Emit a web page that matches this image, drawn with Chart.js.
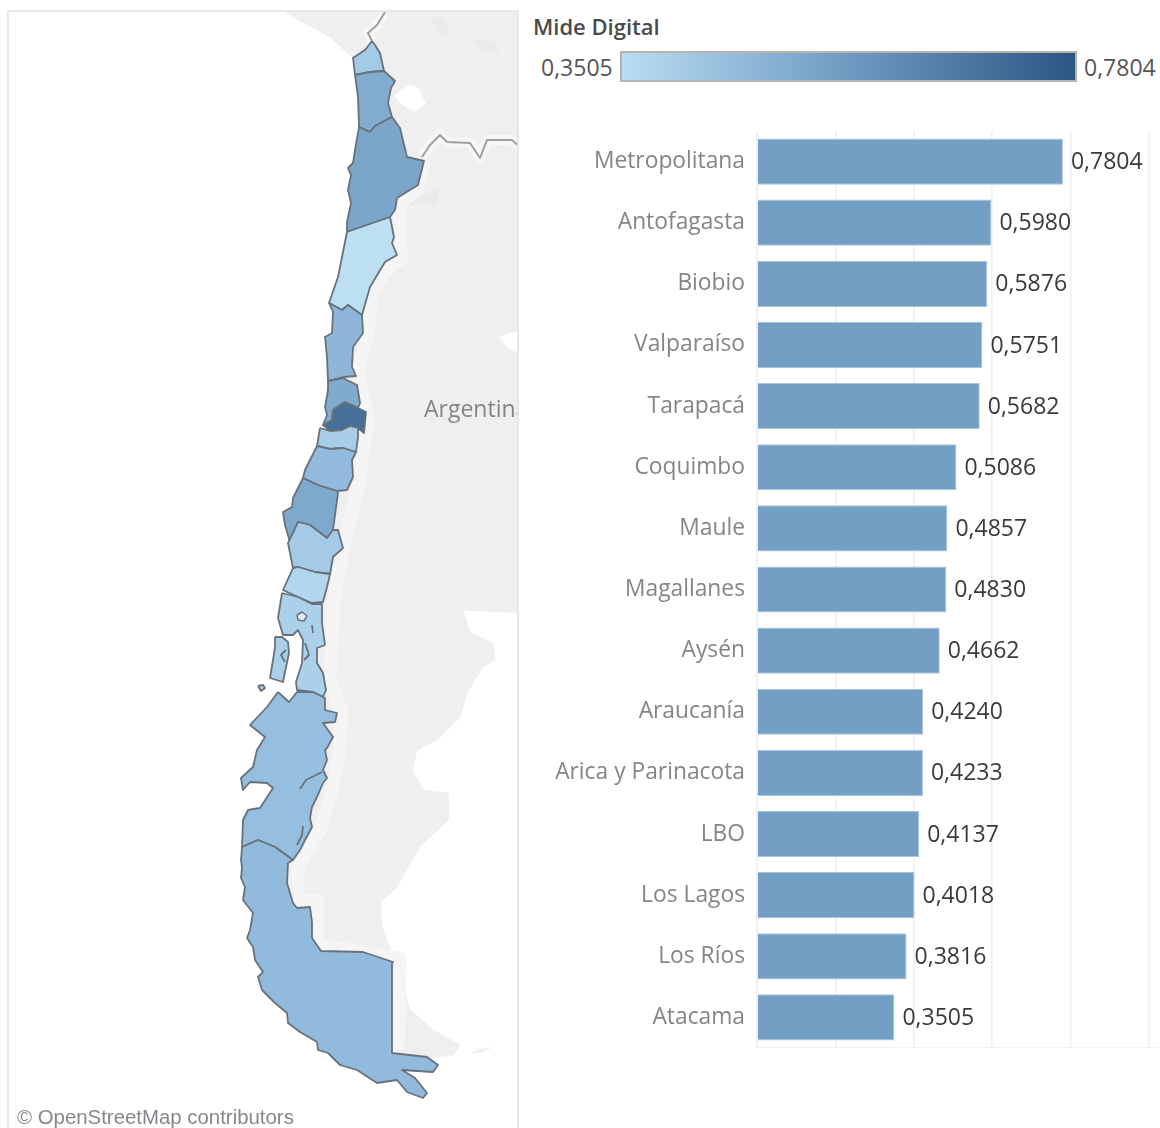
<!DOCTYPE html>
<html>
<head>
<meta charset="utf-8">
<script src="https://cdn.jsdelivr.net/npm/chart.js@4"></script>
<style>
  html, body { margin: 0; background: #fff; }
  body { width: 1160px; height: 1128px; position: relative; overflow: hidden; font-family: "Open Sans", sans-serif; }
  #mapPanel { position: absolute; left: 7px; top: 10px; width: 508px; height: 1118px; border: 2px solid #e8e8e8; border-bottom: 0; overflow: hidden; }
  #mapCanvas { position: absolute; left: 0; top: 0; }
  #country { position: absolute; left: 415px; top: 380px; font: 23px "Open Sans", sans-serif; color: #858585; white-space: nowrap; }
  #credit { position: absolute; left: 8px; top: 1094px; font: 20.4px "Liberation Sans", sans-serif; color: #85888c; white-space: nowrap; }
  #barBox { position: absolute; left: 520px; top: 131px; width: 640px; height: 917px; }
  #legendTitle { position: absolute; left: 533px; top: 11px; font: 600 22px "Open Sans", sans-serif; color: #4a4a4a; }
  .legendValue { position: absolute; top: 51px; font: 23px "Open Sans", sans-serif; color: #555; }
  #legendRamp { position: absolute; left: 620px; top: 51px; width: 453px; height: 27px; border: 2px solid #b5b5ad; }
</style>
</head>
<body>
<div id="mapPanel">
  <canvas id="mapCanvas"></canvas>
  <div id="country">Argentina</div>
  <div id="credit">© OpenStreetMap contributors</div>
</div>
<div id="legendTitle">Mide Digital</div>
<div class="legendValue" style="left:541px">0,3505</div>
<div id="legendRamp"></div>
<div class="legendValue" style="left:1084px">0,7804</div>
<div id="barBox"><canvas id="barCanvas"></canvas></div>
<script>
const regions = ['Metropolitana', 'Antofagasta', 'Biobio', 'Valparaíso', 'Tarapacá', 'Coquimbo', 'Maule', 'Magallanes', 'Aysén', 'Araucanía', 'Arica y Parinacota', 'LBO', 'Los Lagos', 'Los Ríos', 'Atacama'];
const mideDigital = [0.7804, 0.5980, 0.5876, 0.5751, 0.5682, 0.5086, 0.4857, 0.4830, 0.4662, 0.4240, 0.4233, 0.4137, 0.4018, 0.3816, 0.3505];
const axisTicks = [0, 0.2, 0.4, 0.6, 0.8, 1];

// map outlines, in map units
const arica = [[372,41],[365,50],[353,58],[355,75],[370,72],[384,71],[380,53],[375,45]];
const tarapaca = [[355,75],[358,97],[359,127],[370,132],[375,126],[392,117],[388,103],[391,88],[395,81],[384,71],[370,72]];
const antofagasta = [[359,127],[370,132],[375,126],[392,117],[400,128],[407,157],[424,161],[418,185],[397,198],[395,210],[390,217],[347,232],[347,222],[351,203],[348,190],[351,175],[348,168],[353,163],[355,150]];
const atacama = [[347,232],[390,217],[394,237],[392,243],[397,255],[385,262],[370,287],[362,315],[348,305],[342,310],[329,303],[338,277],[342,257]];
const coquimbo = [[329,303],[342,310],[348,305],[362,315],[363,333],[353,347],[352,367],[356,376],[343,377],[328,381],[327,357],[325,337],[332,333],[333,312]];
const valparaiso = [[328,381],[343,378],[357,385],[360,403],[358,408],[345,402],[333,410],[332,420],[323,425],[327,415],[325,407],[328,390]];
const metropolitana = [[345,402],[358,408],[366,412],[364,433],[358,428],[350,426],[342,430],[330,431],[323,425],[332,420],[333,410]];
const lbo = [[320,428],[330,431],[342,430],[350,426],[358,428],[358,437],[356,452],[343,448],[330,449],[317,446]];
const maule = [[317,446],[305,470],[303,478],[318,485],[337,491],[347,490],[353,477],[352,460],[356,452],[343,448],[330,449]];
const biobio = [[303,478],[293,498],[292,507],[283,512],[285,525],[290,542],[298,522],[310,525],[327,538],[333,530],[338,493],[337,491],[318,485]];
const araucania = [[298,522],[288,543],[293,568],[298,567],[315,572],[330,574],[333,557],[343,548],[338,530],[333,530],[327,538],[310,525]];
const losRios = [[293,568],[283,590],[298,597],[312,603],[323,602],[327,587],[330,574],[315,572],[298,567]];
const losLagos = [[282,593],[298,597],[312,604],[322,604],[322,623],[325,645],[317,648],[317,663],[323,673],[326,690],[323,697],[313,692],[297,690],[296,682],[302,663],[303,640],[298,630],[293,635],[283,635],[278,618]];
const chiloe = [[275,637],[282,637],[288,642],[289,653],[285,672],[283,682],[270,678],[273,660],[275,647]];
const islet = [[258,686],[263,685],[265,688],[261,691]];
const lake = [[297,615],[302,612],[307,616],[304,621],[298,620]];
const aysen = [[278,692],[289,702],[297,692],[313,692],[325,698],[325,710],[337,713],[335,722],[323,723],[333,737],[327,748],[325,750],[327,760],[323,770],[327,778],[323,783],[317,797],[312,807],[310,818],[312,827],[305,840],[300,850],[293,860],[275,847],[258,840],[242,847],[243,820],[248,810],[260,808],[273,788],[267,783],[250,782],[243,790],[241,778],[253,767],[257,750],[265,737],[250,725],[267,707]];
const magallanes = [[242,847],[241,860],[242,867],[241,878],[245,887],[243,900],[253,913],[250,930],[247,938],[253,947],[255,960],[263,972],[258,977],[262,990],[275,1003],[287,1013],[288,1023],[300,1032],[317,1042],[318,1050],[328,1053],[340,1065],[357,1070],[377,1083],[397,1080],[407,1092],[423,1098],[427,1093],[415,1078],[402,1070],[433,1072],[438,1065],[427,1057],[392,1053],[392,963],[393,962],[363,952],[321,951],[312,938],[312,922],[310,907],[297,908],[293,903],[287,883],[288,863],[293,860],[275,847],[258,840]];
const fjordA = [[312,625],[313,633]];
const fjordB = [[305,643],[309,655],[304,660]];
const fjordC = [[300,789],[306,780],[322,772]];
const fjordD = [[297,845],[302,835],[303,826]];
const fjordE = [[286,650],[281,655],[285,662]];

const neighbours = [[285,12],[530,12],[530,613],[463,610],[470,633],[493,643],[495,660],[483,667],[467,693],[460,717],[437,740],[417,750],[412,770],[423,790],[448,793],[448,820],[420,847],[408,867],[397,887],[380,903],[382,927],[392,953],[400,973],[410,1010],[433,1030],[460,1045],[453,1055],[430,1058],[391,1050],[391,965],[320,955],[300,925],[285,880],[290,850],[310,780],[315,700],[310,660],[315,600],[320,560],[325,500],[340,470],[345,440],[345,410],[345,350],[360,290],[375,230],[370,150],[375,100],[370,60],[352,57],[330,37]];
const staten = [[472,1053],[480,1049],[490,1048],[482,1052]];
const titicaca = [[395,95],[410,85],[418,88],[425,103],[415,112],[400,103]];
const poopo = [[500,337],[518,331],[518,352],[507,347]];
const patchA = [[430,16],[445,22],[450,36],[438,33]];
const patchB = [[475,40],[495,42],[498,52],[480,48]];
const patchC = [[415,200],[440,188],[436,204],[410,204]];
const chileHalo = [[424,161],[418,188],[400,204],[399,240],[402,258],[388,268],[372,295],[368,335],[358,370],[368,420],[362,460],[358,490],[345,540],[334,600],[330,680],[342,712],[338,760],[332,790],[320,830],[298,868],[298,900],[318,900],[318,945],[400,958],[398,1050]];
const northBorder = [[385,12],[377,25],[368,33],[372,41]];
const eastBorder = [[422,157],[430,145],[440,135],[447,142],[470,143],[480,158],[487,140],[512,140],[520,147]];

const regionShapes = [
  [arica, 'Arica y Parinacota'], [tarapaca, 'Tarapacá'], [antofagasta, 'Antofagasta'], [atacama, 'Atacama'],
  [coquimbo, 'Coquimbo'], [valparaiso, 'Valparaíso'], [metropolitana, 'Metropolitana'], [lbo, 'LBO'],
  [maule, 'Maule'], [biobio, 'Biobio'], [araucania, 'Araucanía'], [losRios, 'Los Ríos'],
  [losLagos, 'Los Lagos'], [chiloe, 'Los Lagos'], [islet, 'Los Lagos'], [aysen, 'Aysén'], [magallanes, 'Magallanes']
];

// map fill is a paler version of the legend ramp
const mapStops = [[0, [188, 223, 242]], [0.3, [146, 187, 221]], [0.55, [127, 168, 205]], [1, [70, 112, 153]]];
function mapColor(v) {
  const lo = Math.min(...mideDigital), hi = Math.max(...mideDigital);
  const t = (v - lo) / (hi - lo);
  let i = 0;
  while (i < mapStops.length - 2 && t > mapStops[i + 1][0]) i++;
  const a = mapStops[i], b = mapStops[i + 1], k = (t - a[0]) / (b[0] - a[0]);
  const c = a[1].map((n, j) => Math.round(n + (b[1][j] - n) * k));
  return 'rgb(' + c.join(',') + ')';
}

function layer(pts, fillColor, lineColor, width) {
  const closed = fillColor ? pts.concat([pts[0]]) : pts;
  return {
    data: closed.map(p => ({ x: p[0], y: p[1] })),
    showLine: true,
    fill: fillColor ? 'shape' : false,
    backgroundColor: fillColor || 'transparent',
    borderColor: lineColor,
    borderWidth: width,
    borderJoinStyle: 'round',
    pointRadius: 0,
    tension: 0
  };
}

const layers = [
  layer(neighbours, '#efefef', '#efefef', 1),
  layer(staten, '#efefef', '#efefef', 1),
  layer(patchA, '#e8ebea', '#e8ebea', 1),
  layer(patchB, '#e8ebea', '#e8ebea', 1),
  layer(patchC, '#e8ebea', '#e8ebea', 1),
  layer(chileHalo, null, '#f5f5f5', 13),
  layer(eastBorder, null, '#f6f6f6', 10),
  layer(northBorder, null, '#f6f6f6', 10),
  layer(titicaca, '#ffffff', '#ffffff', 1),
  layer(poopo, '#ffffff', '#ffffff', 1),
  layer(eastBorder, null, '#a0a0a0', 2),
  layer(northBorder, null, '#a0a0a0', 2)
];
regionShapes.forEach(r => {
  layers.push(layer(r[0], mapColor(mideDigital[regions.indexOf(r[1])]), '#68727c', 1.8));
});
layers.push(layer(lake, '#e4eaee', '#68727c', 1.5));
[fjordA, fjordB, fjordC, fjordD, fjordE].forEach(f => layers.push(layer(f, null, '#68727c', 1.8)));
// chart.js paints high order first, so later layers end up on top
layers.forEach((d, i) => { d.order = layers.length - i; });

const mapBox = document.getElementById('mapCanvas');
mapBox.width = 508;
mapBox.height = 1118;
mapBox.style.width = '508px';
mapBox.style.height = '1118px';

new Chart(mapBox, {
  type: 'scatter',
  data: { datasets: layers },
  options: {
    responsive: false,
    animation: false,
    events: [],
    layout: { padding: 0 },
    plugins: { legend: { display: false }, tooltip: { enabled: false } },
    scales: {
      x: { display: false, min: 9, max: 517 },
      y: { display: false, reverse: true, min: 12, max: 1130 }
    }
  }
});

document.getElementById('legendRamp').style.background = 'linear-gradient(to right, #b9ddf1, #7ea9ce 40%, #2a5783)';

function decimal(v) {
  return v.toFixed(4).replace('.', ',');
}

const barLabels = {
  id: 'barLabels',
  afterDatasetsDraw(chart) {
    const ctx = chart.ctx;
    ctx.save();
    ctx.font = '23px "Open Sans", sans-serif';
    ctx.fillStyle = '#3a3a3a';
    ctx.textAlign = 'left';
    ctx.textBaseline = 'middle';
    chart.getDatasetMeta(0).data.forEach((bar, i) => {
      ctx.fillText(decimal(mideDigital[i]), bar.x + 8, bar.y + 1);
    });
    ctx.restore();
  }
};

new Chart(document.getElementById('barCanvas'), {
  type: 'bar',
  data: {
    labels: regions,
    datasets: [{
      data: mideDigital,
      backgroundColor: '#739fc5',
      borderColor: '#a8c4dc',
      borderWidth: 1,
      categoryPercentage: 1,
      barPercentage: 0.755
    }]
  },
  plugins: [barLabels],
  options: {
    indexAxis: 'y',
    responsive: true,
    maintainAspectRatio: false,
    animation: false,
    events: [],
    layout: { padding: 0 },
    plugins: { legend: { display: false }, tooltip: { enabled: false } },
    scales: {
      x: {
        min: 0,
        max: 1.028,
        afterBuildTicks(scale) { scale.ticks = axisTicks.map(v => ({ value: v })); },
        ticks: { display: false },
        grid: { color: '#f0f0f0', lineWidth: 1.5, drawTicks: false },
        border: { color: '#f0f0f0', width: 2 }
      },
      y: {
        afterFit(scale) { scale.width = 237; scale.paddingTop = 0; scale.paddingBottom = 0; },
        ticks: { color: '#858585', font: { family: '"Open Sans", sans-serif', size: 22.8 }, padding: 12 },
        grid: { display: false, drawTicks: false },
        border: { color: '#f0f0f0', width: 1 }
      }
    }
  }
});
</script>
</body>
</html>
